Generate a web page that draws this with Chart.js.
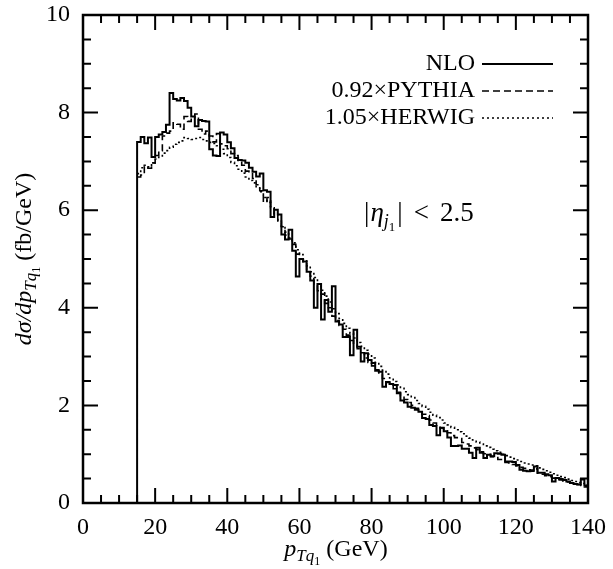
<!DOCTYPE html>
<html>
<head>
<meta charset="utf-8">
<script src="https://cdn.jsdelivr.net/npm/chart.js@4.4.0/dist/chart.umd.min.js"></script>
<style>
  html, body { margin: 0; padding: 0; background: #fff; }
</style>
</head>
<body>
<canvas id="myChart" width="613" height="569"></canvas>
<script>
// histogram bins: 1 GeV wide, starting at 15 GeV
var binStart = 15;
var binWidth = 1;

var nloValues = [
    7.40, 7.50, 7.37, 7.49, 7.09, 7.50, 7.55, 7.60, 7.75, 8.40,
    8.28, 8.25, 8.30, 8.24, 8.10, 7.92, 7.72, 7.85, 7.83, 7.82,
    7.25, 7.12, 7.11, 7.59, 7.55, 7.39, 7.27, 7.07, 7.03, 7.02,
    6.97, 6.87, 6.79, 6.69, 6.75, 6.41, 6.38, 5.86, 6.01, 5.91,
    5.50, 5.40, 5.60, 5.17, 4.64, 5.00, 4.95, 4.74, 4.56, 4.00,
    4.49, 3.76, 4.16, 3.92, 4.44, 3.72, 3.66, 3.40, 3.40, 3.03,
    3.55, 3.20, 2.90, 3.07, 2.93, 2.87, 2.71, 2.69, 2.38, 2.48,
    2.44, 2.42, 2.25, 2.10, 2.06, 1.97, 1.95, 1.91, 1.87, 1.74,
    1.72, 1.60, 1.58, 1.39, 1.54, 1.47, 1.34, 1.17, 1.17, 1.18,
    1.11, 1.11, 1.03, 0.92, 1.13, 1.03, 0.92, 0.99, 0.96, 1.02,
    1.01, 0.99, 0.85, 0.85, 0.84, 0.78, 0.68, 0.66, 0.65, 0.67,
    0.75, 0.62, 0.62, 0.59, 0.57, 0.44, 0.51, 0.49, 0.47, 0.44,
    0.41, 0.39, 0.38, 0.48, 0.36
];

var pythiaValues = [
    6.68, 6.72, 6.90, 6.86, 6.97, 7.12, 7.22, 7.52, 7.58, 7.62,
    7.79, 7.76, 7.66, 7.92, 7.82, 7.90, 7.97, 7.66, 7.56, 7.62,
    7.52, 7.40, 7.57, 7.36, 7.32, 7.26, 7.16, 7.12, 7.00, 6.92,
    6.80, 6.77, 6.65, 6.52, 6.40, 6.16, 6.26, 6.05, 5.91, 5.74,
    5.66, 5.49, 5.41, 5.30, 5.10, 5.00, 4.90, 4.74, 4.65, 4.48,
    4.35, 4.28, 4.09, 4.00, 3.83, 3.74, 3.64, 3.56, 3.44, 3.33,
    3.23, 3.16, 3.08, 2.97, 2.88, 2.81, 2.73, 2.64, 2.55, 2.47,
    2.44, 2.34, 2.27, 2.20, 2.12, 2.06, 2.00, 1.94, 1.88, 1.82,
    1.79, 1.70, 1.64, 1.58, 1.54, 1.48, 1.44, 1.38, 1.34, 1.32,
    1.24, 1.21, 1.17, 1.13, 1.09, 1.05, 1.01, 1.00, 0.95, 0.93,
    0.89, 0.87, 0.83, 0.82, 0.79, 0.76, 0.73, 0.71, 0.68, 0.65,
    0.70, 0.61, 0.59, 0.56, 0.54, 0.51, 0.50, 0.47, 0.45, 0.43,
    0.41, 0.39, 0.38, 0.36, 0.33
];

var herwigValues = [
    6.75, 6.87, 6.92, 6.89, 6.97, 7.05, 7.09, 7.17, 7.22, 7.29,
    7.35, 7.39, 7.42, 7.49, 7.47, 7.45, 7.47, 7.49, 7.45, 7.42,
    7.39, 7.37, 7.32, 7.25, 7.16, 7.08, 6.98, 6.91, 6.84, 6.76,
    6.68, 6.61, 6.56, 6.46, 6.38, 6.26, 6.16, 6.05, 5.93, 5.80,
    5.67, 5.55, 5.43, 5.33, 5.19, 5.09, 4.99, 4.86, 4.74, 4.62,
    4.49, 4.36, 4.24, 4.12, 3.98, 3.88, 3.78, 3.68, 3.58, 3.48,
    3.38, 3.29, 3.21, 3.13, 3.05, 2.97, 2.88, 2.80, 2.72, 2.64,
    2.56, 2.49, 2.42, 2.35, 2.28, 2.22, 2.16, 2.10, 2.04, 1.98,
    1.92, 1.86, 1.80, 1.75, 1.70, 1.64, 1.60, 1.55, 1.50, 1.46,
    1.42, 1.37, 1.33, 1.29, 1.25, 1.21, 1.17, 1.14, 1.10, 1.07,
    1.04, 1.00, 0.97, 0.94, 0.91, 0.88, 0.85, 0.82, 0.80, 0.78,
    0.76, 0.72, 0.69, 0.66, 0.63, 0.60, 0.57, 0.54, 0.52, 0.49,
    0.46, 0.44, 0.42, 0.40, 0.37
];

var seriesNames = ['NLO', '0.92\u00d7PYTHIA', '1.05\u00d7HERWIG'];
var xTicks = [0, 20, 40, 60, 80, 100, 120, 140];
var yTicks = [0, 2, 4, 6, 8, 10];

var serif = "'Liberation Serif', 'DejaVu Serif', serif";

// turn bin contents into step points (value held until the next edge)
function histPoints(values, fromZero) {
    var pts = [];
    if (fromZero) pts.push({ x: binStart, y: 0 });
    for (var i = 0; i < values.length; i++) {
        pts.push({ x: binStart + i * binWidth, y: values[i] });
    }
    pts.push({ x: binStart + values.length * binWidth, y: values[values.length - 1] });
    return pts;
}

// draw a run of text pieces (italic / subscripts) starting at x, baseline y
function drawRich(ctx, parts, x, y) {
    for (var i = 0; i < parts.length; i++) {
        var p = parts[i];
        ctx.font = (p.it ? 'italic ' : '') + p.size + 'px ' + serif;
        ctx.fillText(p.t, x, y + (p.dy || 0));
        x += ctx.measureText(p.t).width + (p.gap || 0);
    }
    return x;
}
function richWidth(ctx, parts) {
    var w = 0;
    for (var i = 0; i < parts.length; i++) {
        var p = parts[i];
        ctx.font = (p.it ? 'italic ' : '') + p.size + 'px ' + serif;
        w += ctx.measureText(p.t).width + (p.gap || 0);
    }
    return w;
}

var yTitle = [
    { t: 'd\u03c3/dp', it: true, size: 24 },
    { t: 'T', it: true, size: 17, dy: 5 },
    { t: 'q', it: true, size: 17, dy: 5 },
    { t: '1', size: 12, dy: 9 },
    { t: ' (fb/GeV)', size: 24 }
];
var xTitle = [
    { t: 'p', it: true, size: 24 },
    { t: 'T', it: true, size: 17, dy: 5 },
    { t: 'q', it: true, size: 17, dy: 5 },
    { t: '1', size: 12, dy: 9 },
    { t: ' (GeV)', size: 24 }
];
var etaCut = [
    { t: '|', size: 27, gap: 1 },
    { t: '\u03b7', it: true, size: 27 },
    { t: 'j', it: true, size: 18, dy: 6 },
    { t: '1', size: 13, dy: 10, gap: 2 },
    { t: '|', size: 27, gap: 11 },
    { t: '<', size: 27, gap: 11 },
    { t: '2.5', size: 27 }
];

var decor = {
    id: 'decor',
    afterDatasetsDraw: function (chart) {
        var ctx = chart.ctx;
        var a = chart.chartArea;
        var xs = chart.scales.x, ys = chart.scales.y;
        ctx.save();
        ctx.strokeStyle = '#000';
        ctx.fillStyle = '#000';

        // inward ticks on all four sides
        ctx.lineWidth = 2;
        ctx.beginPath();
        for (var v = 0; v <= 140; v += 5) {
            var px = xs.getPixelForValue(v);
            var len = (v % 20 === 0) ? 15 : 8;
            ctx.moveTo(px, a.bottom); ctx.lineTo(px, a.bottom - len);
            ctx.moveTo(px, a.top); ctx.lineTo(px, a.top + len);
        }
        for (var w = 0; w <= 10; w += 0.5) {
            var py = ys.getPixelForValue(w);
            var l2 = (w % 2 === 0) ? 15 : 8;
            ctx.moveTo(a.left, py); ctx.lineTo(a.left + l2, py);
            ctx.moveTo(a.right, py); ctx.lineTo(a.right - l2, py);
        }
        ctx.stroke();

        // frame
        ctx.lineWidth = 2.5;
        ctx.strokeRect(a.left, a.top, a.right - a.left, a.bottom - a.top);

        // legend: text right aligned, then a line sample
        ctx.textBaseline = 'middle';
        ctx.textAlign = 'right';
        ctx.font = '24px ' + serif;
        var rows = [64, 91, 118];
        chart.data.datasets.forEach(function (ds, i) {
            ctx.fillText(ds.label, 475, rows[i]);
            ctx.save();
            ctx.lineWidth = ds.borderWidth;
            ctx.setLineDash(ds.borderDash || []);
            ctx.beginPath();
            ctx.moveTo(482, rows[i]);
            ctx.lineTo(553, rows[i]);
            ctx.stroke();
            ctx.restore();
        });

        // cut annotation
        ctx.textAlign = 'left';
        ctx.textBaseline = 'alphabetic';
        drawRich(ctx, etaCut, 364, 221);

        // axis titles
        var xw = richWidth(ctx, xTitle);
        drawRich(ctx, xTitle, 336 - xw / 2, 556);
        ctx.save();
        ctx.translate(31, (a.top + a.bottom) / 2);
        ctx.rotate(-Math.PI / 2);
        var yw = richWidth(ctx, yTitle);
        drawRich(ctx, yTitle, -yw / 2, 0);
        ctx.restore();

        ctx.restore();
    }
};

var ctx = document.getElementById('myChart').getContext('2d');
var myChart = new Chart(ctx, {
    type: 'line',
    data: {
        datasets: [{
            label: seriesNames[0],
            data: histPoints(nloValues, true),
            borderColor: '#000',
            borderWidth: 2,
            borderDash: [],
            stepped: 'before',
            pointRadius: 0,
            fill: false
        }, {
            label: seriesNames[1],
            data: histPoints(pythiaValues, false),
            borderColor: '#000',
            borderWidth: 1.6,
            borderDash: [7, 4],
            stepped: 'before',
            pointRadius: 0,
            fill: false
        }, {
            label: seriesNames[2],
            data: histPoints(herwigValues, false),
            borderColor: '#000',
            borderWidth: 1.6,
            borderDash: [2, 3],
            stepped: 'before',
            pointRadius: 0,
            fill: false
        }]
    },
    options: {
        responsive: false,
        animation: false,
        layout: { padding: { left: 0, right: 25, top: 15, bottom: 0 } },
        plugins: {
            legend: { display: false },
            tooltip: { enabled: false }
        },
        scales: {
            x: {
                type: 'linear',
                min: 0,
                max: 140,
                grid: { display: false, drawTicks: false },
                border: { display: false },
                afterBuildTicks: function (s) { s.ticks = xTicks.map(function (v) { return { value: v }; }); },
                afterFit: function (s) {
                    s.height = 66;
                    s.paddingLeft = 0; s.paddingRight = 0;
                },
                ticks: {
                    color: '#000',
                    padding: 10,
                    maxRotation: 0,
                    font: { family: serif, size: 24 }
                }
            },
            y: {
                min: 0,
                max: 10,
                grid: { display: false, drawTicks: false },
                border: { display: false },
                afterBuildTicks: function (s) { s.ticks = yTicks.map(function (v) { return { value: v }; }); },
                afterFit: function (s) {
                    s.width = 83;
                    s.paddingTop = 0; s.paddingBottom = 0;
                },
                ticks: {
                    color: '#000',
                    padding: 13,
                    font: { family: serif, size: 24 }
                }
            }
        }
    },
    plugins: [decor]
});
</script>
</body>
</html>
